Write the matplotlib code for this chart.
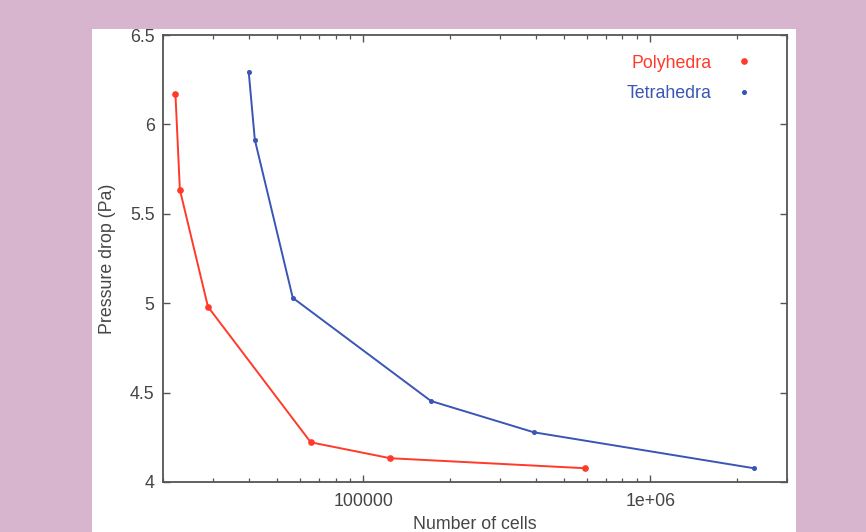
import numpy as np
import matplotlib.pyplot as plt
from matplotlib.patches import Rectangle
from matplotlib.lines import Line2D
from matplotlib.ticker import FixedLocator, NullFormatter

# data
poly_cells = [22100, 22900, 28700, 65500, 124000, 594000]
poly_dp = [6.17, 5.635, 4.98, 4.222, 4.133, 4.077]
tetra_cells = [39800, 41800, 56700, 172000, 393000, 2300000]
tetra_dp = [6.295, 5.915, 5.03, 4.453, 4.278, 4.077]

x_major = [1e5, 1e6]
x_major_labels = ["100000", "1e+06"]
y_ticks = [4, 4.5, 5, 5.5, 6, 6.5]
y_tick_labels = ["4", "4.5", "5", "5.5", "6", "6.5"]

red = "#ff3a2a"
blue = "#3a55b5"
txt = "#454545"
fs = 12.8

plt.rcParams['font.family'] = ['Liberation Sans', 'DejaVu Sans']
plt.rcParams['font.size'] = fs

W, H = 866, 532
fig = plt.figure(figsize=(W / 100, H / 100), dpi=100, facecolor="#d8b5cf")
# white panel behind the plot
fig.patches.append(Rectangle((92 / W, 0), (796 - 92) / W, (H - 29) / H,
                             transform=fig.transFigure, facecolor="white",
                             edgecolor="none", zorder=-5))

ax = fig.add_axes([163 / W, (H - 482) / H, (787 - 163) / W, (482 - 35) / H])
ax.set_facecolor("white")

ax.plot(poly_cells, poly_dp, color=red, lw=1.4, marker="o", ms=3.8)
ax.plot(tetra_cells, tetra_dp, color=blue, lw=1.4, marker="o", ms=2.6)

ax.set_xscale("log")
ax.set_xlim(2e4, 3e6)
ax.set_ylim(4, 6.5)

minors = [m * 10 ** e for e in (4, 5, 6) for m in range(2, 10)]
minors = [v for v in minors if 2e4 <= v <= 3e6]
ax.xaxis.set_major_locator(FixedLocator(x_major))
ax.set_xticklabels(x_major_labels)
ax.xaxis.set_minor_locator(FixedLocator(minors))
ax.xaxis.set_minor_formatter(NullFormatter())
ax.set_yticks(y_ticks)
ax.set_yticklabels(y_tick_labels)

ax.tick_params(which="both", direction="in", top=True, right=True,
               colors="#555555", labelcolor=txt, labelsize=fs)
ax.tick_params(which="major", length=5, width=1.0)
ax.tick_params(axis="x", which="major", pad=8)
ax.tick_params(axis="y", which="major", pad=6)
ax.tick_params(which="minor", length=3, width=0.9)
for s in ax.spines.values():
    s.set_color("#555555")
    s.set_linewidth(1.3)

ax.set_xlabel("Number of cells", color=txt, labelpad=4)
ax.set_ylabel("Pressure drop (Pa)", color=txt, labelpad=10)

handles = [Line2D([], [], color=red, marker="o", ms=3.8, ls="none"),
           Line2D([], [], color=blue, marker="o", ms=2.6, ls="none")]
ax.legend(handles, ["Polyhedra", "Tetrahedra"], loc="upper right",
          frameon=False, markerfirst=False, labelcolor=[red, blue],
          handlelength=0.8, handletextpad=1.4, labelspacing=0.78,
          bbox_to_anchor=(0.968, 0.992), fontsize=fs)

fig.savefig("out.png", dpi=100, facecolor=fig.get_facecolor())
